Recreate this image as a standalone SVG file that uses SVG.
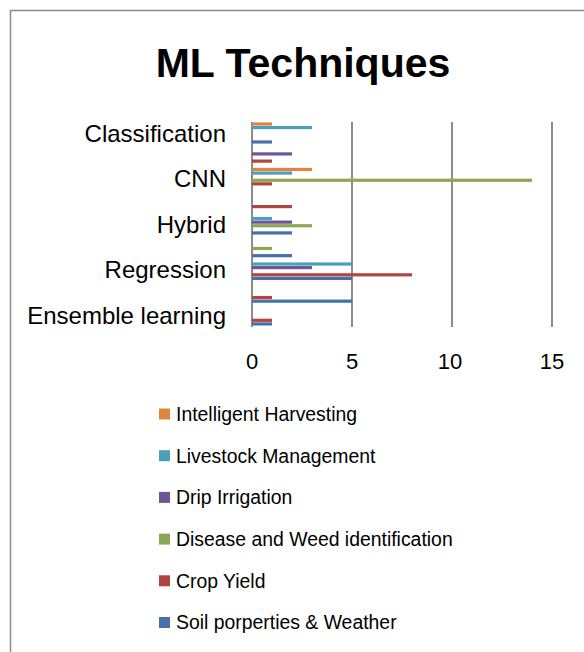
<svg xmlns="http://www.w3.org/2000/svg" width="584" height="652" viewBox="0 0 584 652">
<style>
.t{font-family:"Liberation Sans",Arial,sans-serif;fill:#000}
.title{font-size:41px;font-weight:bold;text-anchor:middle}
.cat{font-size:24px;text-anchor:end}
.tick{font-size:22px;text-anchor:middle}
.leg{font-size:19.4px}
.grid{stroke:#8c8c8c;stroke-width:2}
.ih{fill:#E1843D}
.lm{fill:#4A9FBA}
.di{fill:#6E5696}
.dw{fill:#8BA654}
.cy{fill:#B1443F}
.sw{fill:#4471A9}
</style>
<rect x="0" y="0" width="584" height="652" fill="#fff"/>
<rect x="10.5" y="10.5" width="620" height="700" fill="none" stroke="#8c8c8c" stroke-width="1.5"/>
<g id="title"><text class="t title" x="303" y="77">ML Techniques</text></g>
<g id="grid">
<line class="grid" x1="352" y1="122" x2="352" y2="327"/>
<line class="grid" x1="452" y1="122" x2="452" y2="327"/>
<line class="grid" x1="552" y1="122" x2="552" y2="327"/>
<line class="grid" x1="252" y1="122" x2="252" y2="327"/>
</g>
<g id="bars">
<rect class="sw" x="252" y="322.3" width="20" height="3.2"/>
<rect class="cy" x="252" y="318.7" width="20" height="3.2"/>
<rect class="sw" x="252" y="299.56" width="100" height="3.2"/>
<rect class="cy" x="252" y="295.96" width="20" height="3.2"/>
<rect class="sw" x="252" y="276.82" width="100" height="3.2"/>
<rect class="cy" x="252" y="273.22" width="160" height="3.2"/>
<rect class="di" x="252" y="266.02" width="60" height="3.2"/>
<rect class="lm" x="252" y="262.42" width="100" height="3.2"/>
<rect class="sw" x="252" y="254.08" width="40" height="3.2"/>
<rect class="dw" x="252" y="246.88" width="20" height="3.2"/>
<rect class="sw" x="252" y="231.34" width="40" height="3.2"/>
<rect class="dw" x="252" y="224.14" width="60" height="3.2"/>
<rect class="di" x="252" y="220.54" width="40" height="3.2"/>
<rect class="lm" x="252" y="216.94" width="20" height="3.2"/>
<rect class="cy" x="252" y="205.0" width="40" height="3.2"/>
<rect class="cy" x="252" y="182.26" width="20" height="3.2"/>
<rect class="dw" x="252" y="178.66" width="280" height="3.2"/>
<rect class="lm" x="252" y="171.46" width="40" height="3.2"/>
<rect class="ih" x="252" y="167.86" width="60" height="3.2"/>
<rect class="cy" x="252" y="159.52" width="20" height="3.2"/>
<rect class="di" x="252" y="152.32" width="40" height="3.2"/>
<rect class="sw" x="252" y="140.38" width="20" height="3.2"/>
<rect class="lm" x="252" y="125.98" width="60" height="3.2"/>
<rect class="ih" x="252" y="122.38" width="20" height="3.2"/>
</g>
<g id="categories">
<text class="t cat" x="226" y="141.8">Classification</text>
<text class="t cat" x="226" y="187.3">CNN</text>
<text class="t cat" x="226" y="232.8">Hybrid</text>
<text class="t cat" x="226" y="278.3">Regression</text>
<text class="t cat" x="226" y="323.8">Ensemble learning</text>
</g>
<g id="ticks">
<text class="t tick" x="252" y="368.5">0</text>
<text class="t tick" x="352" y="368.5">5</text>
<text class="t tick" x="450" y="368.5">10</text>
<text class="t tick" x="552" y="368.5">15</text>
</g>
<g id="legend">
<rect class="ih" x="159" y="408.5" width="11" height="11"/>
<text class="t leg" x="176" y="420.8">Intelligent Harvesting</text>
<rect class="lm" x="159" y="450.2" width="11" height="11"/>
<text class="t leg" x="176" y="462.5">Livestock Management</text>
<rect class="di" x="159" y="491.9" width="11" height="11"/>
<text class="t leg" x="176" y="504.2">Drip Irrigation</text>
<rect class="dw" x="159" y="533.6" width="11" height="11"/>
<text class="t leg" x="176" y="545.9">Disease and Weed identification</text>
<rect class="cy" x="159" y="575.3" width="11" height="11"/>
<text class="t leg" x="176" y="587.6">Crop Yield</text>
<rect class="sw" x="159" y="617" width="11" height="11"/>
<text class="t leg" x="176" y="629.3">Soil porperties &amp; Weather</text>
</g>
</svg>
